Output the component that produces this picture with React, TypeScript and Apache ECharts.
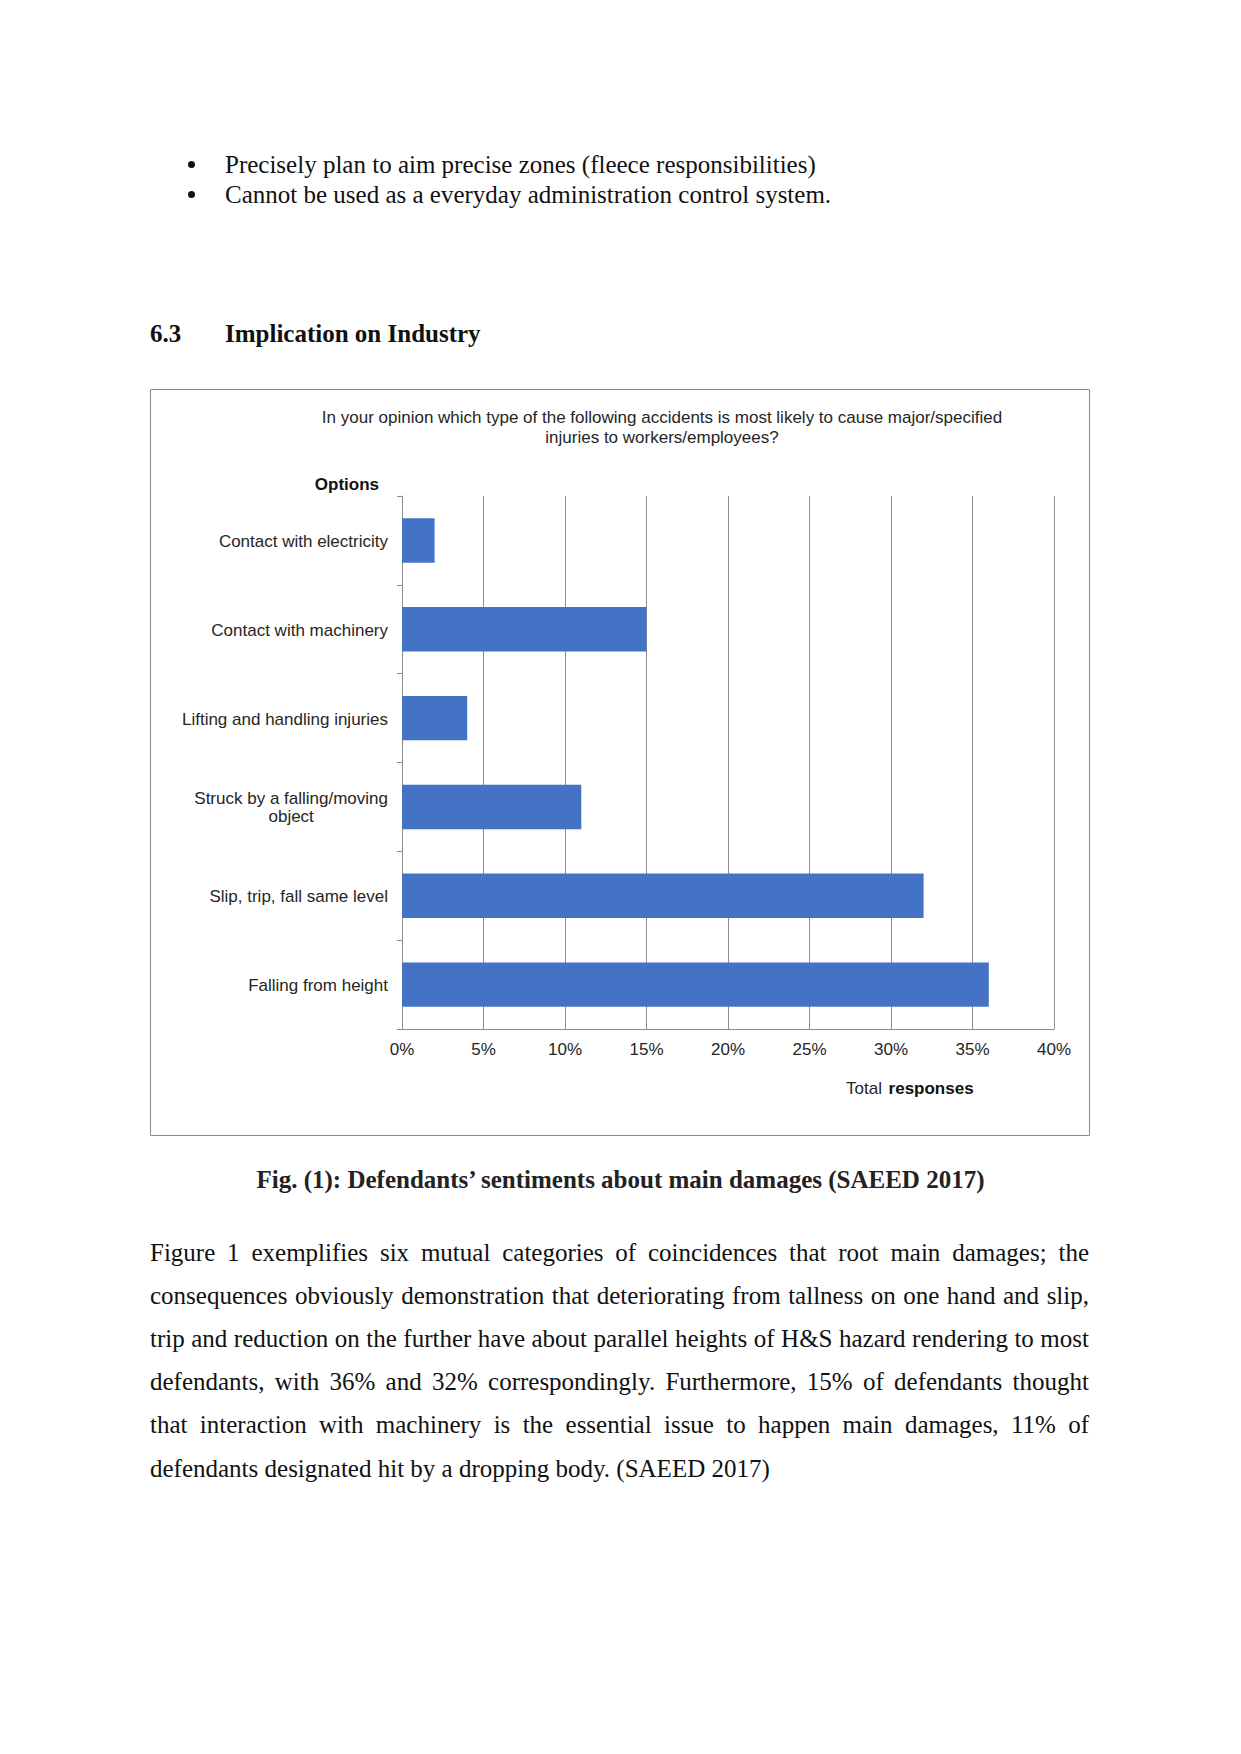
import React, { useEffect, useRef } from "react";
import * as echarts from "echarts";

const categories = [
  "Contact with electricity",
  "Contact with machinery",
  "Lifting and handling injuries",
  "Struck by a falling/moving\nobject",
  "Slip, trip, fall same level",
  "Falling from height",
];
const values = [2, 15, 4, 11, 32, 36];
const chartTitle =
  "In your opinion which type of the following accidents is most likely to cause major/specified\ninjuries to workers/employees?";
const axisMin = 0;
const axisMax = 40;
const axisStep = 5;

const bullets = [
  "Precisely plan to aim precise zones (fleece responsibilities)",
  "Cannot be used as a everyday administration control system.",
];
const paragraphLines = [
  "Figure 1 exemplifies six mutual categories of coincidences that root main damages; the",
  "consequences obviously demonstration that deteriorating from tallness on one hand and slip,",
  "trip and reduction on the further have about parallel heights of H&S hazard rendering to most",
  "defendants, with 36% and 32% correspondingly. Furthermore, 15% of defendants thought",
  "that interaction with machinery is the essential issue to happen main damages, 11% of",
  "defendants designated hit by a dropping body. (SAEED 2017)",
];

const SANS = "'Liberation Sans', Arial, sans-serif";
const SERIF = "'Liberation Serif', 'Times New Roman', serif";
const TXT = "#262626";
const GRID = "#8c8c8c";
const FS = 17;

function Chart() {
  const ref = useRef<HTMLDivElement>(null);
  useEffect(() => {
    if (!ref.current) return;
    const chart = echarts.init(ref.current, undefined, { renderer: "svg" });
    chart.setOption({
      animation: false,
      backgroundColor: "#ffffff",
      grid: { left: 252, top: 107, width: 652, height: 533, containLabel: false },
      graphic: [
        {
          type: "rect",
          shape: { x: 0.5, y: 0.5, width: 939, height: 746 },
          style: { fill: "none", stroke: "#8a8a8a", lineWidth: 1 },
          silent: true,
        },
        {
          type: "text",
          x: 512,
          y: 38.5,
          style: {
            text: chartTitle,
            fontFamily: SANS,
            fontSize: FS,
            lineHeight: 20,
            fill: TXT,
            textAlign: "center",
            textVerticalAlign: "middle",
          },
        },
        {
          type: "text",
          x: 229,
          y: 95,
          style: {
            text: "Options",
            fontFamily: SANS,
            fontSize: FS,
            fontWeight: "bold",
            fill: "#111",
            textAlign: "right",
            textVerticalAlign: "middle",
          },
        },
        {
          type: "text",
          x: 696,
          y: 699.5,
          style: {
            text: "{n|Total}  {b|responses}",
            textAlign: "left",
            textVerticalAlign: "middle",
            rich: {
              n: { fontFamily: SANS, fontSize: FS, fill: TXT, color: TXT },
              b: { fontFamily: SANS, fontSize: FS, fontWeight: "bold", fill: "#111", color: "#111" },
            },
          },
        },
      ],
      xAxis: {
        type: "value",
        min: axisMin,
        max: axisMax,
        interval: axisStep,
        axisLine: { show: true, lineStyle: { color: GRID, width: 1 } },
        axisTick: { show: false },
        splitLine: { show: true, lineStyle: { color: GRID, width: 1 } },
        axisLabel: {
          formatter: "{value}%",
          fontFamily: SANS,
          fontSize: FS,
          color: TXT,
          margin: 12,
        },
      },
      yAxis: {
        type: "category",
        data: categories,
        inverse: true,
        axisLine: { show: true, lineStyle: { color: GRID, width: 1 } },
        axisTick: { show: true, length: 5, lineStyle: { color: GRID } },
        axisLabel: {
          margin: 14,
          align: "right",
          formatter: (v: string) => {
            const parts = v.split("\n");
            if (parts.length > 1) return `{a|${parts[0]}}\n{c|${parts[1]}}`;
            return `{a|${v}}`;
          },
          rich: {
            a: { fontFamily: SANS, fontSize: FS, color: TXT, lineHeight: 19, padding: [2, 0, 0, 0] },
            c: { fontFamily: SANS, fontSize: FS, color: TXT, lineHeight: 19, align: "center" },
          },
        },
      },
      series: [
        {
          type: "bar",
          data: values,
          barWidth: "50%",
          itemStyle: { color: "#4472C4" },
          silent: true,
        },
      ],
    });
    return () => chart.dispose();
  }, []);
  return (
    <div
      ref={ref}
      style={{ position: "absolute", left: 150, top: 389, width: 941, height: 748 }}
    />
  );
}

export default function App() {
  const body: React.CSSProperties = {
    position: "absolute",
    fontFamily: SERIF,
    fontSize: 25,
    color: "#111",
    whiteSpace: "nowrap",
  };
  return (
    <div
      style={{
        position: "absolute",
        left: 0,
        top: 0,
        width: 1241,
        height: 1754,
        background: "#ffffff",
        overflow: "hidden",
      }}
    >
      {bullets.map((b, i) => (
        <React.Fragment key={i}>
          <div
            style={{
              position: "absolute",
              left: 187.5,
              top: 161 + i * 29.5,
              width: 7,
              height: 7,
              borderRadius: "50%",
              background: "#111",
            }}
          />
          <div style={{ ...body, left: 225, top: 150 + i * 29.5, lineHeight: "29px" }}>{b}</div>
        </React.Fragment>
      ))}
      <div style={{ ...body, left: 150, top: 319, lineHeight: "29px", fontWeight: "bold" }}>6.3</div>
      <div style={{ ...body, left: 225, top: 319, lineHeight: "29px", fontWeight: "bold" }}>
        Implication on Industry
      </div>
      <Chart />
      <div
        style={{
          ...body,
          left: 0,
          width: 1241,
          top: 1165,
          lineHeight: "29px",
          fontWeight: "bold",
          textAlign: "center",
          color: "#222",
        }}
      >
        Fig. (1): Defendants’ sentiments about main damages (SAEED 2017)
      </div>
      {paragraphLines.map((line, i) => (
        <div
          key={i}
          style={{
            ...body,
            whiteSpace: "normal",
            left: 150,
            width: 939,
            top: 1230.5 + i * 43.2,
            lineHeight: "43.2px",
            textAlign: "justify",
            textAlignLast: i === paragraphLines.length - 1 ? "left" : "justify",
          }}
        >
          {line}
        </div>
      ))}
    </div>
  );
}
